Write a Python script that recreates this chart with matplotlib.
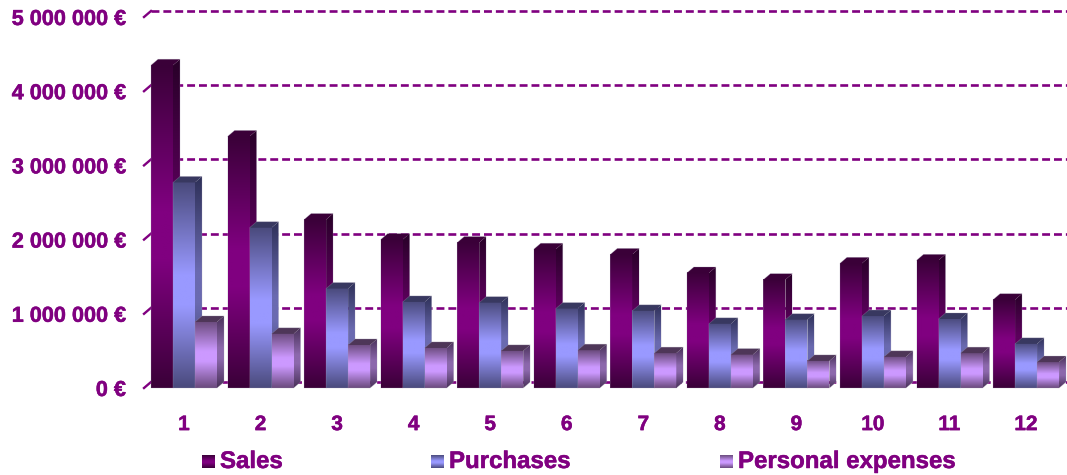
import numpy as np
import matplotlib
matplotlib.use("Agg")
import matplotlib.pyplot as plt
import matplotlib.patheffects as pe
from matplotlib.colors import LinearSegmentedColormap
from matplotlib.patches import Polygon
from matplotlib.transforms import Affine2D

plt.rcParams['font.family'] = ['Liberation Sans', 'DejaVu Sans']

months = list(range(1, 13))
sales = [4350000, 3390000, 2270000, 2000000, 1960000, 1870000,
         1800000, 1550000, 1460000, 1680000, 1720000, 1190000]
purchases = [2770000, 2160000, 1340000, 1160000, 1150000, 1070000,
             1040000, 865000, 920000, 970000, 930000, 595000]
personal = [890000, 730000, 580000, 540000, 500000, 510000,
            470000, 450000, 365000, 420000, 470000, 350000]
series_names = ['Sales', 'Purchases', 'Personal expenses']
y_ticks = [0, 1000000, 2000000, 3000000, 4000000, 5000000]

PURPLE = '#800080'
# front edge/centre, side edge/centre, top face
styles = [
    ('#3a0038', '#800080', '#280028', '#5c005c', '#3a0038'),
    ('#4a4a7c', '#9999ff', '#2e3058', '#6a6ab0', '#383860'),
    ('#6a4a7c', '#cc99ff', '#483058', '#8c68ac', '#4e3658'),
]

W, H = 1067, 475
PX_X = 76.55       # pixels per category
PX_M = 74.2        # pixels per million
BAR = 22 / PX_X
GROUP = 3 * BAR
DX = 7 / PX_X
DY = 6 / PX_M * 1e6
BOLD = [pe.withStroke(linewidth=0.35, foreground=PURPLE)]


def gradient(edge, mid):
    cmap = LinearSegmentedColormap.from_list(
        'g', [(0, edge), (0.45, mid), (0.6, mid), (1, edge)], N=256)
    return cmap(np.linspace(0, 1, 256))[:, None, :]


def draw_bar(ax, x0, val, style):
    edge, mid, side_edge, side_mid, top = style
    x1 = x0 + BAR
    ax.imshow(gradient(edge, mid), extent=(x0, x1, 0, val), aspect='auto',
              interpolation='bilinear', zorder=3)
    side = ax.imshow(gradient(side_edge, side_mid), extent=(x1, x1 + DX, 0, val + DY),
                     aspect='auto', interpolation='bilinear', zorder=3)
    side.set_clip_path(Polygon([(x1, 0), (x1 + DX, DY), (x1 + DX, val + DY), (x1, val)],
                               transform=ax.transData))
    ax.add_patch(Polygon([(x0, val), (x0 + DX, val + DY), (x1 + DX, val + DY), (x1, val)],
                         facecolor=top, edgecolor='none', zorder=3))
    # faint light rim round the silhouette
    ax.add_patch(Polygon([(x0, 0), (x1, 0), (x1 + DX, DY), (x1 + DX, val + DY),
                          (x0 + DX, val + DY), (x0, val)],
                         fill=False, edgecolor='#a8a0b8', lw=0.5, alpha=0.35, zorder=3,
                         clip_on=False))


fig = plt.figure(figsize=(W / 100, H / 100), dpi=100)
ax = fig.add_axes([144 / W, (H - 388) / H, (W - 144) / W, 371 / H])
x_left = 1 - (184 - 144) / PX_X
x_right = x_left + (W - 144) / PX_X

# back wall gridlines and the short slanted stubs on the floor edge
back = ax.transData + Affine2D().translate(7, 6)
for v in y_ticks:
    ax.plot([x_left, x_right], [v, v], transform=back, color=PURPLE, lw=1.9,
            dashes=(3.0, 1.5), clip_on=False, zorder=1)
    ax.plot([x_left, x_left + DX], [v, v + DY], color=PURPLE, lw=1.7,
            clip_on=False, zorder=1)

for i, month in enumerate(months):
    start = month - GROUP / 2
    for j, values in enumerate([sales, purchases, personal]):
        draw_bar(ax, start + j * BAR, values[i], styles[j])

ax.set_xlim(x_left, x_right)
ax.set_ylim(0, 5000000)
ax.set_xticks(months)
ax.set_xticklabels([str(m) for m in months])
ax.set_yticks(y_ticks)
ax.set_yticklabels([f'{v:,} €'.replace(',', ' ') for v in y_ticks])
ax.tick_params(axis='x', length=0, pad=19.5, labelsize=15, labelcolor=PURPLE)
ax.tick_params(axis='y', length=0, pad=13, labelsize=15.6, labelcolor=PURPLE)
for label in ax.get_xticklabels() + ax.get_yticklabels():
    label.set_fontweight('bold')
    label.set_path_effects(BOLD)
for spine in ax.spines.values():
    spine.set_visible(False)
ax.patch.set_alpha(0)

# legend row with gradient swatches
legend_x = [202, 431, 720]
for name, px, style in zip(series_names, legend_x, styles):
    sw = fig.add_axes([px / W, (H - 468) / H, 13 / W, 13 / H])
    sw.imshow(gradient(style[0], style[1]), aspect='auto', interpolation='bilinear')
    sw.axis('off')
    fig.text((px + 18) / W, (H - 468) / H, name, color=PURPLE, fontsize=17.3,
             fontweight='bold', ha='left', va='baseline', path_effects=BOLD)

fig.savefig('out.png', dpi=100)
